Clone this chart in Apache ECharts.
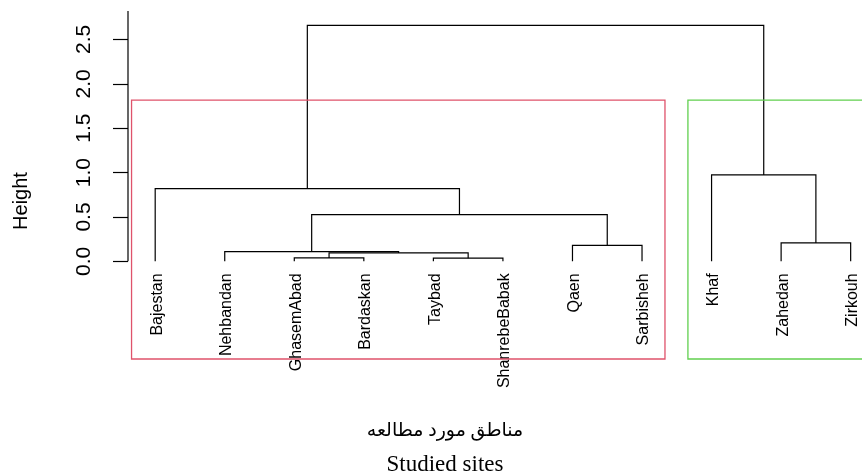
<!DOCTYPE html>
<html>
<head>
<meta charset="utf-8">
<script src="https://cdn.jsdelivr.net/npm/echarts@6/dist/echarts.min.js"></script>
<style>
  html, body { margin: 0; padding: 0; background: #fff; }
  #chart { width: 862px; height: 474px; }
</style>
</head>
<body>
<div id="chart"></div>
<script>
// Leaf order of the dendrogram (left to right)
const sites = ['Bajestan', 'Nehbandan', 'GhasemAbad', 'Bardaskan', 'Taybad', 'ShanrebeBabak',
               'Qaen', 'Sarbisheh', 'Khaf', 'Zahedan', 'Zirkouh'];

// Merge table in hclust style: negative = leaf position, positive = earlier merge step
const mergeLeft   = [-3, -5, 1, -2, -7, -10, 4, -1, -9, 8];
const mergeRight  = [-4, -6, 2, 3, -8, -11, 5, 7, 6, 9];
const mergeHeight = [0.038, 0.036, 0.095, 0.11, 0.18, 0.207, 0.526, 0.819, 0.973, 2.658];

// Two clusters from cutting the tree (first and last leaf of each)
const groupFirstLeaf = [1, 9];
const groupLastLeaf  = [8, 11];

const heightTicks = [0, 0.5, 1, 1.5, 2, 2.5];

// Axis extents
const xMin = 0.609, xMax = 11.163;
const yMin = -1.1, yMax = 2.82;

// Positions of each merge node: x = mean of the two children, y = merge height
const nodeX = [], nodeH = [];
const childPos = id => id < 0 ? [-id, 0] : [nodeX[id - 1], nodeH[id - 1]];
const mergeData = mergeHeight.map((h, k) => {
  const a = childPos(mergeLeft[k]);
  const b = childPos(mergeRight[k]);
  nodeX.push((a[0] + b[0]) / 2);
  nodeH.push(h);
  return [a[0], a[1], b[0], b[1], h];
});

// Leaf label anchors: leaf position at height 0
const leafData = sites.map((name, i) => [i + 1, 0, name]);

// Rectangles around the clusters: top halfway between the two highest merges
const sortedH = mergeHeight.slice().sort((a, b) => b - a);
const cutHeight = (sortedH[0] + sortedH[1]) / 2;
const rectData = groupFirstLeaf.map((f, i) => [f - 0.34, yMin, groupLastLeaf[i] + 0.33, cutHeight]);
const rectColors = ['#DF536B', '#61D04F'];

const chart = echarts.init(document.getElementById('chart'));

chart.setOption({
  animation: false,
  backgroundColor: '#fff',
  grid: { left: 128, right: 0, top: 11, bottom: 115, outerBoundsMode: 'none', containLabel: false },
  xAxis: {
    type: 'value', min: xMin, max: xMax,
    axisLine: { show: false },
    axisTick: { show: false },
    axisLabel: { show: false },
    splitLine: { show: false }
  },
  yAxis: {
    type: 'value', min: yMin, max: yMax,
    axisLine: { show: false },
    splitLine: { show: false },
    axisTick: { show: true, customValues: heightTicks, length: 15, lineStyle: { color: '#000', width: 1.2 } },
    axisLabel: {
      customValues: heightTicks,
      formatter: v => v.toFixed(1),
      rotate: 90, margin: 33,
      fontFamily: '"Liberation Sans", Arial, sans-serif', fontSize: 21, color: '#000'
    }
  },
  series: [
    {
      // y axis line from 0 to the top of the plot
      type: 'custom', clip: false, silent: true,
      data: [[xMin, 0, xMin, yMax]],
      renderItem: (params, api) => {
        const p0 = api.coord([api.value(0), api.value(1)]);
        const p1 = api.coord([api.value(2), api.value(3)]);
        return { type: 'line', shape: { x1: p0[0], y1: p0[1], x2: p1[0], y2: p1[1] },
                 style: { stroke: '#000', lineWidth: 1.2 } };
      }
    },
    {
      // dendrogram branches
      type: 'custom', clip: false, silent: true,
      data: mergeData,
      renderItem: (params, api) => {
        const ax = api.value(0), ay = api.value(1), bx = api.value(2), by = api.value(3), h = api.value(4);
        const pts = [[ax, ay], [ax, h], [bx, h], [bx, by]].map(p => api.coord(p));
        return { type: 'polyline', shape: { points: pts },
                 style: { stroke: '#000', lineWidth: 1.2, fill: null } };
      }
    },
    {
      // leaf names, written upwards and hanging below each leaf
      type: 'custom', clip: false, silent: true,
      data: leafData,
      renderItem: (params, api) => {
        const p = api.coord([api.value(0), api.value(1)]);
        return { type: 'text', x: p[0] + 2, y: p[1] + 12, rotation: Math.PI / 2,
                 style: { text: leafData[params.dataIndex][2], fill: '#000',
                          align: 'right', verticalAlign: 'middle',
                          font: '16px "Liberation Sans", Arial, sans-serif' } };
      }
    },
    {
      // cluster rectangles
      type: 'custom', clip: false, silent: true, z: 5,
      data: rectData,
      renderItem: (params, api) => {
        const p0 = api.coord([api.value(0), api.value(3)]);
        const p1 = api.coord([api.value(2), api.value(1)]);
        return { type: 'rect', shape: { x: p0[0], y: p0[1], width: p1[0] - p0[0], height: p1[1] - p0[1] },
                 style: { stroke: rectColors[params.dataIndex], lineWidth: 1.3, fill: null } };
      }
    }
  ],
  graphic: [
    { type: 'text', x: 21, y: 201, rotation: Math.PI / 2,
      style: { text: 'Height', fill: '#000', align: 'center', verticalAlign: 'middle',
               font: '20px "Liberation Sans", Arial, sans-serif' } },
    { type: 'text', x: 445, y: 431,
      style: { text: 'مناطق مورد مطالعه', fill: '#000', align: 'center', verticalAlign: 'middle',
               font: '19px "Liberation Serif", "DejaVu Sans", serif' } },
    { type: 'text', x: 445, y: 465,
      style: { text: 'Studied sites', fill: '#000', align: 'center', verticalAlign: 'middle',
               font: '23px "Liberation Serif", "Times New Roman", serif' } }
  ]
});
</script>
</body>
</html>
